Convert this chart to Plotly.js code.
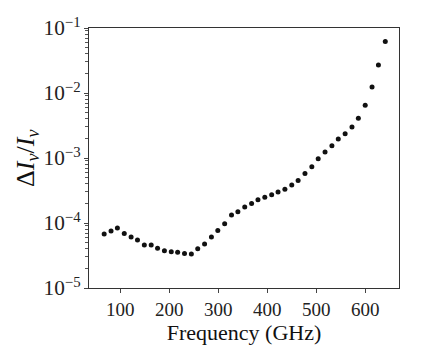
<!DOCTYPE html>
<html>
<head>
<meta charset="utf-8">
<script src="https://cdn.plot.ly/plotly-3.0.1.min.js"></script>
<style>
  html, body { margin: 0; padding: 0; background: #fff; }
  #chart { width: 421px; height: 361px; }
</style>
</head>
<body>
<div id="chart"></div>
<script>
// frequencies (GHz) and fractional intensity error
var freqs = [67, 81, 94, 108, 122, 135, 149, 163, 176, 190, 204, 217, 231, 245,
  258, 272, 286, 299, 313, 327, 340, 354, 368, 381, 395, 409, 422, 436, 450,
  463, 477, 491, 504, 518, 532, 545, 559, 573, 586, 600, 614, 627, 641];

var dIoverI = [6.8e-5, 7.5e-5, 8.4e-5, 6.9e-5, 6.1e-5, 5.5e-5, 4.6e-5, 4.6e-5,
  4.1e-5, 3.75e-5, 3.6e-5, 3.55e-5, 3.4e-5, 3.33e-5, 4.0e-5, 4.75e-5, 6.1e-5,
  7.7e-5, 9.7e-5, 1.33e-4, 1.49e-4, 1.76e-4, 2.0e-4, 2.28e-4, 2.5e-4, 2.72e-4,
  3.0e-4, 3.3e-4, 3.85e-4, 4.5e-4, 5.75e-4, 7.35e-4, 9.7e-4, 1.24e-3, 1.55e-3,
  1.96e-3, 2.37e-3, 3.0e-3, 4.1e-3, 6.5e-3, 1.24e-2, 2.7e-2, 6.2e-2];

var serif = "Liberation Serif, DejaVu Serif, serif";

// minor log ticks (2..9 in every decade) for a tick-only overlay axis
var minorVals = [];
for (var e = -5; e < -1; e++) {
  for (var m = 2; m <= 9; m++) minorVals.push(m * Math.pow(10, e));
}

var trace = {
  x: freqs,
  y: dIoverI,
  type: "scatter",
  mode: "markers",
  marker: { color: "#111", size: 5 },
  hoverinfo: "skip"
};

// invisible trace so the minor-tick axis gets drawn
var minorTrace = {
  x: [freqs[0]],
  y: [dIoverI[0]],
  yaxis: "y2",
  type: "scatter",
  mode: "markers",
  marker: { opacity: 0 },
  hoverinfo: "skip"
};

var layout = {
  width: 421,
  height: 361,
  margin: { l: 89, r: 22, t: 28, b: 73 },
  paper_bgcolor: "#fff",
  plot_bgcolor: "#fff",
  showlegend: false,
  font: { family: serif, color: "#111", size: 18 },
  xaxis: {
    range: [36, 669],
    dtick: 100,
    tick0: 0,
    ticks: "outside",
    ticklen: 4,
    tickcolor: "#444",
    showgrid: false,
    zeroline: false,
    showline: true,
    mirror: true,
    linecolor: "#333",
    linewidth: 1,
    tickfont: { family: serif, size: 19, color: "#222" },
    title: { text: "Frequency (GHz)", font: { family: serif, size: 22 }, standoff: 4 }
  },
  yaxis: {
    type: "log",
    range: [-5, -1],
    dtick: 1,
    exponentformat: "power",
    ticks: "outside",
    ticklen: 4,
    tickcolor: "#444",
    showgrid: false,
    zeroline: false,
    showline: true,
    mirror: true,
    linecolor: "#333",
    linewidth: 1,
    tickfont: { family: serif, size: 17, color: "#222" }
  },
  yaxis2: {
    type: "log",
    range: [-5, -1],
    overlaying: "y",
    side: "left",
    anchor: "x",
    tickmode: "array",
    tickvals: minorVals,
    showticklabels: false,
    ticks: "outside",
    ticklen: 3,
    tickwidth: 1,
    tickcolor: "#555",
    showgrid: false,
    zeroline: false,
    showline: false
  },
  annotations: [{
    text: "Δ<i>I</i><sub><i>ν</i></sub>/<i>I</i><sub><i>ν</i></sub>",
    xref: "paper",
    yref: "paper",
    x: -0.2,
    y: 0.5,
    xanchor: "center",
    yanchor: "middle",
    textangle: -90,
    showarrow: false,
    font: { family: serif, size: 26, color: "#111" }
  }]
};

Plotly.newPlot("chart", [trace, minorTrace], layout, { staticPlot: true, displayModeBar: false });
</script>
</body>
</html>
